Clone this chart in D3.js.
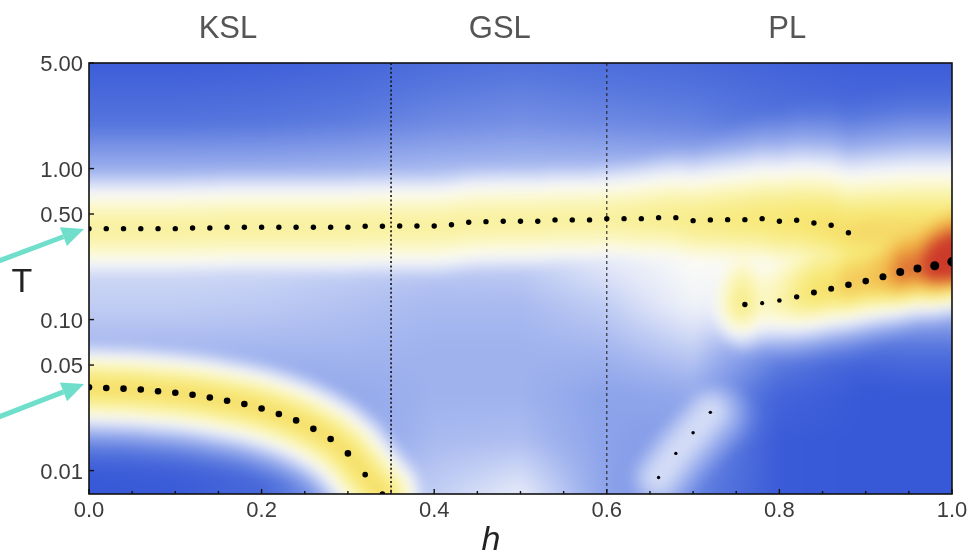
<!DOCTYPE html>
<html><head><meta charset="utf-8">
<script src="https://cdn.jsdelivr.net/npm/d3@7"></script>
<style>
body{margin:0;background:#fff;}
#wrap{position:relative;width:974px;height:556px;overflow:hidden;background:#fff;}
#wrap canvas,#wrap svg{position:absolute;left:0;top:0;}
</style></head><body><div id="wrap"></div>
<script>
// ---- data ----
// upper branch (all phases)
const upperH = [0,0.02,0.04,0.06,0.08,0.10,0.12,0.14,0.16,0.18,0.20,0.22,0.24,0.26,0.28,0.30,0.32,0.34,0.36,0.38,0.40,
                0.42,0.44,0.46,0.48,0.50,0.52,0.54,0.56,0.58,0.60,0.62,0.64,0.66,0.68,0.70,0.72,0.74,0.76,0.78,0.80,0.82,0.84,0.86,0.88];
const upperT = [0.400,0.400,0.400,0.400,0.400,0.400,0.404,0.404,0.409,0.409,0.409,0.409,0.409,0.409,0.409,0.409,0.415,0.415,0.417,0.417,0.417,
                0.425,0.441,0.445,0.448,0.448,0.448,0.457,0.457,0.457,0.466,0.466,0.466,0.473,0.473,0.452,0.457,0.459,0.459,0.466,0.448,0.455,0.436,0.421,0.376];
// lower branch in the KSL phase
const kslH = [0,0.02,0.04,0.06,0.08,0.10,0.12,0.14,0.16,0.18,0.20,0.22,0.24,0.26,0.28,0.30,0.32,0.34];
const kslT = [0.0356,0.0352,0.0349,0.0344,0.0335,0.0328,0.0318,0.0305,0.0290,0.0276,0.0258,0.0237,0.0215,0.0189,0.0162,0.0130,0.0094,0.0070];
// lower branch in the PL phase, with its spectral weight
const plH = [0.76,0.78,0.80,0.82,0.84,0.86,0.88,0.90,0.92,0.94,0.96,0.98,1.00];
const plT = [0.126,0.1285,0.1338,0.1414,0.1513,0.1598,0.170,0.1798,0.192,0.2063,0.2183,0.2271,0.2415];
const plWeight = [0.26,0.02,0.11,0.26,0.37,0.37,0.48,0.48,0.56,0.74,0.74,0.93,1.0];
// faint low-T branch entering the PL phase
const tailH = [0.66,0.68,0.70,0.72];
const tailT = [0.0090,0.0130,0.0178,0.0243];

const boundaryH = [0.35, 0.6];
const regionNames = ["KSL", "GSL", "PL"];
const regionLabelH = [0.161, 0.476, 0.809];
const xTicks = [0, 0.2, 0.4, 0.6, 0.8, 1.0];
const xMinorTicks = [0.05,0.1,0.15,0.25,0.3,0.35,0.45,0.5,0.55,0.65,0.7,0.75,0.85,0.9,0.95];
const yTicks = [0.01, 0.05, 0.1, 0.5, 1, 5];

// background intensity away from the peaks (rows: log10 T, cols: h)
const bgH = [0, 0.1, 0.2, 0.3, 0.4, 0.5, 0.6, 0.7, 0.8, 0.9, 1.0];
const bgLogT = [0.7, 0.3, 0, -0.3, -0.6, -0.9, -1.2, -1.5, -1.8, -2.16];
const bgLevel = [
  [0.05,0.05,0.06,0.08,0.12,0.14,0.12,0.10,0.07,0.05,0.05],
  [0.15,0.15,0.16,0.18,0.22,0.24,0.22,0.20,0.15,0.12,0.12],
  [0.34,0.34,0.34,0.35,0.37,0.38,0.38,0.36,0.32,0.30,0.28],
  [0.44,0.44,0.44,0.44,0.44,0.44,0.47,0.52,0.54,0.47,0.42],
  [0.45,0.45,0.45,0.43,0.41,0.42,0.50,0.56,0.56,0.42,0.36],
  [0.42,0.42,0.41,0.39,0.37,0.37,0.42,0.53,0.48,0.25,0.18],
  [0.36,0.36,0.36,0.36,0.35,0.35,0.36,0.42,0.22,0.06,0.04],
  [0.30,0.30,0.30,0.32,0.35,0.35,0.30,0.32,0.08,0.03,0.03],
  [0.05,0.06,0.10,0.30,0.37,0.38,0.30,0.26,0.04,0.03,0.03],
  [0.03,0.04,0.10,0.35,0.42,0.50,0.30,0.20,0.04,0.03,0.03]
];

// ---- layout ----
const W = 974, H = 556;
const x = d3.scaleLinear().domain([0, 1]).range([89, 952]);
const y = d3.scaleLog().domain([0.007, 5]).range([494, 63]);
const X0 = 89, Y0 = 63, PW = 863, PH = 431;

const color = d3.scaleLinear()
  .domain([0, 0.15, 0.35, 0.48, 0.56, 0.66, 0.78, 0.9, 1.0])
  .range(["#3152d6", "#5474dd", "#9fb2ee", "#dfe5f8", "#fbfbf7", "#fbf7c0", "#f7e874", "#f0ad42", "#cd3a2a"])
  .clamp(true);
const lut = d3.range(256).map(i => d3.rgb(color(i / 255)));

const wrap = d3.select("#wrap");

// ---- intensity field ----
// peak along a curve that is a function of h: vertical distance, flat beyond its ends
function bandRidge(hs, ts, amp, wUp, wDown) {
  const cy = d3.scaleLinear().domain(hs).range(ts.map(t => y(t))).clamp(true);
  return (h, px, py) => {
    const yc = cy(h);
    const d = py - yc;
    const w = d < 0 ? wUp(h) : wDown(h);
    return amp(h) * Math.exp(-(d * d) / (w * w));
  };
}
// peak along a curved path: distance to the polyline in screen space
function pathRidge(hs, ts, amp, w) {
  const pts = hs.map((h, i) => [x(h), y(ts[i])]);
  return (h, px, py) => {
    let best = Infinity;
    for (let i = 0; i < pts.length - 1; i++) {
      const [ax, ay] = pts[i], [bx, by] = pts[i + 1];
      const dx = bx - ax, dy = by - ay;
      let t = ((px - ax) * dx + (py - ay) * dy) / (dx * dx + dy * dy);
      t = t < 0 ? 0 : t > 1 ? 1 : t;
      const ex = px - ax - t * dx, ey = py - ay - t * dy;
      const d2 = ex * ex + ey * ey;
      if (d2 < best) best = d2;
    }
    return amp * Math.exp(-best / (w * w));
  };
}
const ramp = (h, a, b) => Math.max(0, Math.min(1, (h - a) / (b - a)));
const plAmp = d3.scaleLinear().domain(plH).range(plWeight.map(w => 0.64 + 0.42 * w)).clamp(true);

const ridges = [
  bandRidge(upperH, upperT,
    h => 0.71 + 0.1 * ramp(h, 0.6, 0.9),
    h => 68 + 30 * ramp(h, 0.6, 0.95),
    h => 68 + 22 * ramp(h, 0.6, 0.95)),
  pathRidge(kslH, kslT, 0.8, 50),
  bandRidge(plH, plT,
    h => plAmp(h) * (h < plH[0] ? Math.exp(-Math.pow((plH[0] - h) / 0.06, 2)) : 1),
    () => 95, () => 54),
  pathRidge(tailH, tailT, 0.46, 44)
];

function bgAt(h, lt) {
  let c = d3.bisectRight(bgH, h) - 1;
  c = Math.max(0, Math.min(bgH.length - 2, c));
  const tc = Math.max(0, Math.min(1, (h - bgH[c]) / (bgH[c + 1] - bgH[c])));
  let r = 0;
  while (r < bgLogT.length - 2 && lt < bgLogT[r + 1]) r++;
  const tr = Math.max(0, Math.min(1, (bgLogT[r] - lt) / (bgLogT[r] - bgLogT[r + 1])));
  const a = bgLevel[r][c] * (1 - tc) + bgLevel[r][c + 1] * tc;
  const b = bgLevel[r + 1][c] * (1 - tc) + bgLevel[r + 1][c + 1] * tc;
  return a * (1 - tr) + b * tr;
}

const pad = 24;
const off = document.createElement("canvas");
off.width = PW + 2 * pad; off.height = PH + 2 * pad;
const octx = off.getContext("2d");
const img = octx.createImageData(off.width, off.height);
for (let j = 0; j < off.height; j++) {
  const sy = Y0 - pad + j + 0.5;
  const lt = Math.log10(y.invert(sy));
  for (let i = 0; i < off.width; i++) {
    const sx = X0 - pad + i + 0.5;
    const h = x.invert(sx);
    let v = bgAt(h, lt);
    for (const r of ridges) { const rv = r(h, sx, sy); if (rv > v) v = rv; }
    const c = lut[Math.max(0, Math.min(255, Math.round(v * 255)))];
    const k = (j * off.width + i) * 4;
    img.data[k] = c.r; img.data[k + 1] = c.g; img.data[k + 2] = c.b; img.data[k + 3] = 255;
  }
}
octx.putImageData(img, 0, 0);

const heat = wrap.append("canvas").attr("width", PW).attr("height", PH)
  .style("left", X0 + "px").style("top", Y0 + "px");
const hctx = heat.node().getContext("2d");
hctx.filter = "blur(6px)";
hctx.drawImage(off, -pad, -pad);

// ---- overlay ----
const svg = wrap.append("svg").attr("width", W).attr("height", H)
  .style("font-family", "'Liberation Sans', Arial, sans-serif");

svg.append("defs").append("clipPath").attr("id", "plot")
  .append("rect").attr("x", X0).attr("y", Y0).attr("width", PW).attr("height", PH);

// phase boundaries
svg.append("line").attr("x1", x(boundaryH[0])).attr("x2", x(boundaryH[0])).attr("y1", Y0).attr("y2", Y0 + PH)
  .attr("stroke", "#111").attr("stroke-width", 1.6).attr("stroke-dasharray", "2,2.4");
svg.append("line").attr("x1", x(boundaryH[1])).attr("x2", x(boundaryH[1])).attr("y1", Y0).attr("y2", Y0 + PH)
  .attr("stroke", "#222").attr("stroke-width", 1.1).attr("stroke-dasharray", "3,3");

// peak positions
const dots = svg.append("g").attr("clip-path", "url(#plot)").attr("fill", "#000");
dots.selectAll(".up").data(upperH).join("circle")
  .attr("cx", d => x(d)).attr("cy", (d, i) => y(upperT[i])).attr("r", 2.7);
dots.selectAll(".ksl").data(kslH).join("circle")
  .attr("cx", d => x(d)).attr("cy", (d, i) => y(kslT[i])).attr("r", (d, i) => i >= 16 ? 2.8 : 3.3);
const rScale = d3.scaleLinear().domain([0, 1]).range([2.0, 4.7]);
dots.selectAll(".pl").data(plH).join("circle")
  .attr("cx", d => x(d)).attr("cy", (d, i) => y(plT[i])).attr("r", (d, i) => rScale(plWeight[i]));
dots.selectAll(".tail").data(tailH).join("circle")
  .attr("cx", d => x(d)).attr("cy", (d, i) => y(tailT[i])).attr("r", 1.7);

// frame
svg.append("rect").attr("x", X0).attr("y", Y0).attr("width", PW).attr("height", PH)
  .attr("fill", "none").attr("stroke", "#111").attr("stroke-width", 1.6);

// x axis ticks and labels (ticks point inward)
const gx = svg.append("g");
gx.selectAll("line.maj").data(xTicks).join("line")
  .attr("x1", d => x(d)).attr("x2", d => x(d)).attr("y1", Y0 + PH).attr("y2", Y0 + PH - 5)
  .attr("stroke", "#111").attr("stroke-width", 1.4);
gx.selectAll("line.min").data(xMinorTicks).join("line")
  .attr("x1", d => x(d)).attr("x2", d => x(d)).attr("y1", Y0 + PH).attr("y2", Y0 + PH - 3)
  .attr("stroke", "#111").attr("stroke-width", 1.4);
gx.selectAll("text").data(xTicks).join("text")
  .attr("x", d => x(d)).attr("y", 517).attr("text-anchor", "middle")
  .attr("font-size", 22).attr("fill", "#3c3c3c").text(d3.format(".1f"));

// y axis ticks and labels
const gy = svg.append("g");
gy.selectAll("line").data(yTicks).join("line")
  .attr("x1", X0).attr("x2", X0 + 5).attr("y1", d => y(d)).attr("y2", d => y(d))
  .attr("stroke", "#111").attr("stroke-width", 1.4);
gy.selectAll("text").data(yTicks).join("text")
  .attr("x", 83).attr("y", d => y(d) + 8).attr("text-anchor", "end")
  .attr("font-size", 22).attr("fill", "#3c3c3c").text(d3.format(".2f"));

// axis titles
svg.append("text").attr("x", 491).attr("y", 550).attr("text-anchor", "middle")
  .attr("font-size", 34).attr("font-style", "italic").attr("fill", "#222").text("h");
svg.append("text").attr("x", 22).attr("y", 292).attr("text-anchor", "middle")
  .attr("font-size", 34).attr("fill", "#222").text("T");

// phase names
svg.selectAll("text.phase").data(regionNames).join("text")
  .attr("x", (d, i) => x(regionLabelH[i])).attr("y", 38).attr("text-anchor", "middle")
  .attr("font-size", 31).attr("fill", "#555").text(d => d);

// pointer arrows
function arrow(x1, y1, x2, y2) {
  const ang = Math.atan2(y2 - y1, x2 - x1);
  const L = 22, Wd = 10;
  const bx = x2 - L * Math.cos(ang), by = y2 - L * Math.sin(ang);
  const g = svg.append("g").attr("fill", "#6fdfcb").attr("stroke", "#6fdfcb");
  g.append("line").attr("x1", x1).attr("y1", y1).attr("x2", bx).attr("y2", by).attr("stroke-width", 5);
  g.append("path").attr("stroke", "none").attr("d", d3.line()([
    [x2, y2],
    [bx + Wd * Math.sin(ang), by - Wd * Math.cos(ang)],
    [bx - Wd * Math.sin(ang), by + Wd * Math.cos(ang)]
  ]) + "Z");
}
arrow(-4, 262, 84, 229);
arrow(-4, 418, 84, 384);
</script></body></html>
